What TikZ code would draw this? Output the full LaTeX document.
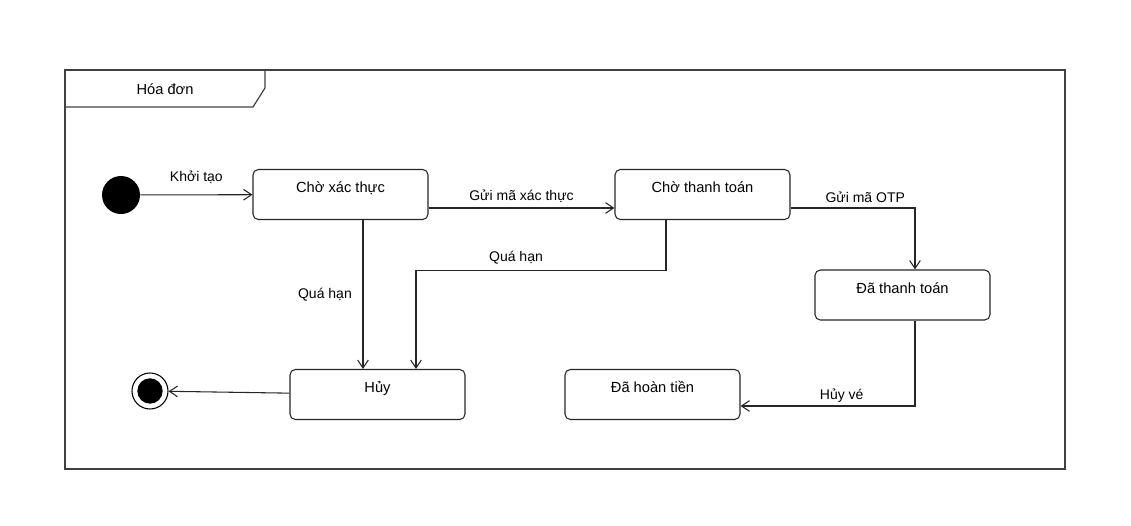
\documentclass[tikz,border=0pt]{standalone}
\usepackage{fontspec}
\setmainfont{Liberation Sans}
\usetikzlibrary{arrows.meta,calc}

\tikzset{
  frame/.style={draw=black!75, line width=0.9pt},
  state/.style={draw=black!85, line width=0.8pt, rounded corners=4pt,
    minimum width=131.25pt, minimum height=37.5pt, inner sep=0pt,
    text height=17.5pt, text depth=20pt, font=\fontsize{11}{13}\selectfont},
  trans/.style={draw=black!85, line width=0.8pt, -{Straight Barb[length=6pt,width=8pt]}},
  lbl/.style={font=\fontsize{10.5}{12}\selectfont, inner sep=2pt},
}

\begin{document}
\begin{tikzpicture}[x=0.75pt,y=-0.75pt]
    \useasboundingbox (0,0) rectangle (1131,525);
    % khung
    \draw[frame] (65,70) rectangle (1065,469);
    \draw[frame] (65,107) -- (253,107) -- (265,88) -- (265,70);
    \node[font=\fontsize{11}{13}\selectfont] (title) at (165,89) {Hóa đơn};

    % trang thai
    \node[circle, fill=black, minimum size=28.5pt, inner sep=0pt] (init) at (121,195) {};
    \node[circle, draw=black, line width=0.8pt, minimum size=27pt, inner sep=0pt,
      path picture={\fill[black] (path picture bounding box.center) circle (9.5pt);}] (final) at (150,391) {};
    \node[state] (cxt) at (340.5,194.5) {Chờ xác thực};
    \node[state] (ctt) at (702.5,194.5) {Chờ thanh toán};
    \node[state] (dtt) at (902.5,295) {Đã thanh toán};
    \node[state] (huy) at (377.5,394.5) {Hủy};
    \node[state] (dht) at (652.5,394.5) {Đã hoàn tiền};

    % chuyen trang thai
    \draw[trans] (init) -- node[lbl, above=6pt] {Khởi tạo} (cxt);
    \draw[trans] ($(cxt.east)+(0,13.5)$) -- node[lbl, above=2pt] {Gửi mã xác thực} ($(ctt.west)+(0,13.5)$);
    \draw[trans] ($(ctt.east)+(0,13.5)$) -| node[lbl, above=2pt, pos=0.3] {Gửi mã OTP} ($(dtt.north)+(12.5,0)$);
    \draw[trans] ($(cxt.south)+(22.5,0)$) coordinate (q1) -- node[lbl, left=6pt] {Quá hạn} (q1 |- huy.north);
    \draw[trans] ($(ctt.south)+(-36.5,0)$) -- ++(0,50) -| node[lbl, above=2pt, pos=0.3] {Quá hạn} ($(huy.north)+(38.5,0)$);
    \draw[trans] ($(dtt.south)+(12.5,0)$) |- node[lbl, above=0pt, pos=0.71] {Hủy vé} ($(dht.east)+(0,11.5)$);
    \draw[trans] (huy) -- (final);
\end{tikzpicture}
\end{document}
